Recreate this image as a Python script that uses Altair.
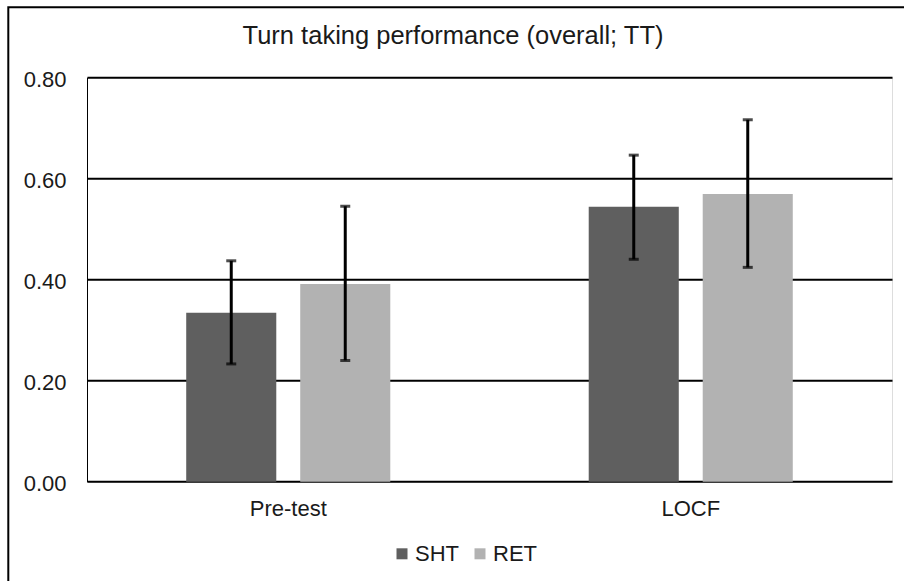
import altair as alt
import pandas as pd

phases = ["Pre-test", "Pre-test", "LOCF", "LOCF"]
groups = ["SHT", "RET", "SHT", "RET"]
means = [0.334, 0.391, 0.544, 0.569]
lower = [0.233, 0.240, 0.440, 0.424]
upper = [0.437, 0.545, 0.646, 0.716]
phase_order = ["Pre-test", "LOCF"]
group_order = ["SHT", "RET"]
group_colors = ["#5f5f5f", "#b2b2b2"]
y_ticks = [0.0, 0.2, 0.4, 0.6, 0.8]

df = pd.DataFrame({"phase": phases, "group": groups, "mean": means, "lo": lower, "hi": upper})

W, H = 805, 404.4
FONT = "Liberation Sans"
TXT = "#1a1a1a"

x_enc = alt.X(
    "phase:N", sort=phase_order,
    scale=alt.Scale(paddingInner=0.493, paddingOuter=0.2465),
    axis=alt.Axis(title=None, labelAngle=0, ticks=False, domain=False, grid=False,
                  labelFontSize=22, labelFont=FONT, labelColor=TXT, labelPadding=16.5),
)
xo_enc = alt.XOffset("group:N", sort=group_order,
                     scale=alt.Scale(paddingInner=0.21, paddingOuter=0))
y_scale = alt.Scale(domain=[0, 0.8])

bars = alt.Chart(df).mark_bar().encode(
    x=x_enc,
    xOffset=xo_enc,
    y=alt.Y("mean:Q", scale=y_scale,
            axis=alt.Axis(values=y_ticks, format=".2f", title=None, grid=True,
                          gridColor="black", gridWidth=2, ticks=False, domain=True,
                          domainColor="black", domainWidth=1,
                          labelFontSize=22, labelFont=FONT, labelColor=TXT,
                          labelPadding=21, labelOffset=2)),
    color=alt.Color("group:N", sort=group_order,
                    scale=alt.Scale(domain=group_order, range=group_colors),
                    legend=alt.Legend(title=None, orient="none", direction="horizontal",
                                      legendX=304, legendY=465.5, symbolType="square",
                                      symbolSize=121, symbolStrokeWidth=0,
                                      labelFontSize=22, labelFont=FONT, labelColor=TXT,
                                      labelOffset=2, columnPadding=10, padding=0)),
)

rules = alt.Chart(df).mark_rule(color="black", strokeWidth=3).encode(
    x=alt.X("phase:N", sort=phase_order),
    xOffset=alt.XOffset("group:N", sort=group_order),
    y=alt.Y("lo:Q", scale=y_scale),
    y2="hi:Q",
)
caps_lo = alt.Chart(df).mark_tick(color="black", thickness=3, size=10).encode(
    x=alt.X("phase:N", sort=phase_order),
    xOffset=alt.XOffset("group:N", sort=group_order),
    y=alt.Y("lo:Q", scale=y_scale),
)
caps_hi = alt.Chart(df).mark_tick(color="black", thickness=3, size=10).encode(
    x=alt.X("phase:N", sort=phase_order),
    xOffset=alt.XOffset("group:N", sort=group_order),
    y=alt.Y("hi:Q", scale=y_scale),
)

border = alt.Chart(pd.DataFrame({"z": [0]})).mark_rect(
    fillOpacity=0, stroke="black", strokeWidth=2
).encode(
    x=alt.value(-78.7), x2=alt.value(W + 100),
    y=alt.value(-70), y2=alt.value(H + 200),
)

chart = alt.layer(bars, rules, caps_lo, caps_hi, border).resolve_scale(
    x="shared", xOffset="shared", y="shared"
).properties(
    width=W, height=H,
    title=alt.TitleParams("Turn taking performance (overall; TT)", fontSize=25.5,
                          font=FONT, fontWeight="normal", color=TXT,
                          anchor="middle", dx=-36.5, offset=-63, baseline="alphabetic"),
    autosize=alt.AutoSizeParams(type="none"),
    padding={"left": 87, "top": 77.3, "right": 12, "bottom": 99.3},
).configure_view(strokeWidth=0).configure(background="white")

chart.save("out.html", embed_options={"renderer": "svg", "actions": False})
